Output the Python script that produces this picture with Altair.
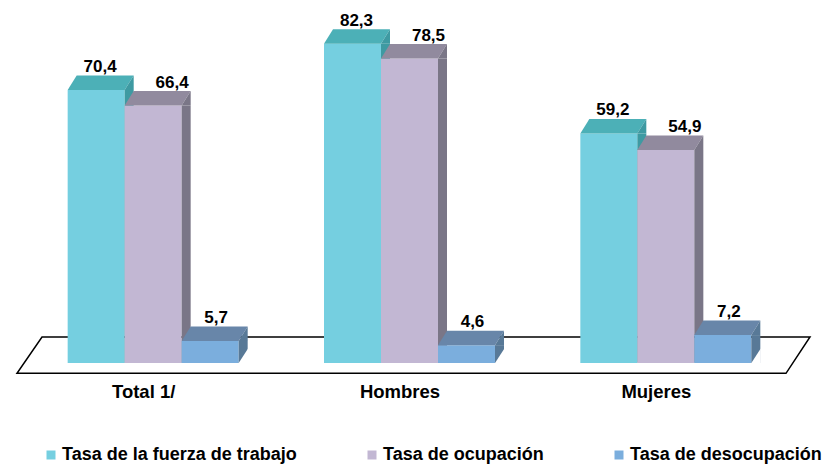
import altair as alt
import pandas as pd

# ---------------- data ----------------
CATEGORIES = ["Total 1/", "Hombres", "Mujeres"]
SERIES = ["Tasa de la fuerza de trabajo", "Tasa de ocupación", "Tasa de desocupación"]
TASA_FUERZA = [70.4, 82.3, 59.2]
TASA_OCUPACION = [66.4, 78.5, 54.9]
TASA_DESOCUPACION = [5.7, 4.6, 7.2]

# ---------------- styles ----------------
FONT = "Liberation Sans, Arial, sans-serif"
FRONT = ["#75CFE0", "#C2B7D3", "#7BAEDD"]
TOP = ["#4CB0B7", "#918A9E", "#6886A9"]
SIDE = ["#3E9AA2", "#7A7687", "#587997"]
LABEL_DX = [4, 19, 6]

BAR_W = 57       # bar front width (px)
HALF = BAR_W / 2
DX = 9           # depth offset x (px)
DY = 14.5        # depth offset y (px)

TOP_PATH = f"M{-HALF},0 L{HALF},0 L{HALF + DX},{-DY} L{-HALF + DX},{-DY} Z"
SIDE_TRI = f"M{HALF},0 L{HALF + DX},{-DY} L{HALF + DX},0 Z"
WHITE_TRI = f"M{HALF - 0.3},0.6 L{HALF + DX + 0.4},{-DY} L{HALF + DX + 0.4},0.6 Z"
FLOOR_X = 384.5
FLOOR_PATH = "M-367.5,-26 L400.5,-26 L376.5,10.3 L-392.5,10.3 Z"

rows = []
for s, vals in zip(SERIES, [TASA_FUERZA, TASA_OCUPACION, TASA_DESOCUPACION]):
    for c, v in zip(CATEGORIES, vals):
        rows.append({"categoria": c, "serie": s, "valor": v})
df = pd.DataFrame(rows)

Y_SCALE = alt.Scale(domain=[0, 90], nice=False, zero=True)

X = alt.X(
    "categoria:N",
    sort=CATEGORIES,
    title=None,
    scale=alt.Scale(type="band", paddingInner=0.333, paddingOuter=0.1665),
    axis=alt.Axis(
        labelFont=FONT, labelFontSize=18.5, labelFontWeight="bold", labelColor="black",
        labelPadding=19, labelOffset=-9.5, labelAngle=0,
        domain=False, ticks=False, tickSize=0, grid=False,
    ),
)
Y = alt.Y("valor:Q", scale=Y_SCALE, axis=None)
Y0 = alt.Y("cero:Q", scale=Y_SCALE, axis=None)

LEGEND = alt.Legend(
    orient="none", legendX=17, legendY=432, direction="horizontal", title=None,
    symbolType="square", symbolSize=81, symbolStrokeWidth=0,
    labelFont=FONT, labelFontSize=18, labelFontWeight="bold", labelColor="black",
    columnPadding=66, labelOffset=2, labelLimit=0,
)

base = alt.Chart(df).transform_calculate(
    label="replace(format(datum.valor, '.1f'), '.', ',')",
    cero="0",
).encode(x=X)

layers = []
for i, s in enumerate(SERIES):
    off = (i - 1) * BAR_W
    b = base.transform_filter(alt.datum.serie == s)
    front = b.mark_bar(strokeWidth=0, width=BAR_W, xOffset=off).encode(
        y=Y,
        color=alt.Color("serie:N",
                        scale=alt.Scale(domain=SERIES, range=FRONT), legend=LEGEND),
    )
    side = b.mark_rule(strokeWidth=DX, color=SIDE[i], xOffset=off + HALF + DX / 2,
                       strokeCap="butt").encode(y=Y, y2="cero:Q")
    white = b.mark_point(shape=WHITE_TRI, size=4, filled=True, fill="white",
                         strokeWidth=0, opacity=1, xOffset=off).encode(y=Y0)
    top = b.mark_point(shape=TOP_PATH, size=4, filled=True, fill=TOP[i],
                       strokeWidth=0, opacity=1, xOffset=off).encode(y=Y)
    stri = b.mark_point(shape=SIDE_TRI, size=4, filled=True, fill=SIDE[i],
                        strokeWidth=0, opacity=1, xOffset=off).encode(y=Y)
    layers += [front, side, white, top, stri]

for i, s in enumerate(SERIES):
    off = (i - 1) * BAR_W
    b = base.transform_filter(alt.datum.serie == s)
    txt = b.mark_text(
        dx=off + LABEL_DX[i], dy=-18, baseline="alphabetic", align="center",
        font=FONT, fontSize=17, fontWeight="bold", color="black",
    ).encode(y=Y, text="label:N")
    layers.append(txt)

floor = base.transform_filter(alt.datum.serie == SERIES[0]).transform_filter(
    alt.datum.categoria == CATEGORIES[0]
).mark_point(
    shape=FLOOR_PATH, size=4, filled=False, stroke="black", strokeWidth=1.5, opacity=1
).encode(x=alt.value(FLOOR_X), y=Y0)

chart = alt.layer(floor, *layers).properties(
    width=769, height=349,
    padding={"left": 17, "top": 6, "right": 34, "bottom": 101},
    autosize=alt.AutoSizeParams(type="none"),
    background="white",
).configure_view(stroke=None)

chart.save("out.html", embed_options={"renderer": "svg", "actions": False})
